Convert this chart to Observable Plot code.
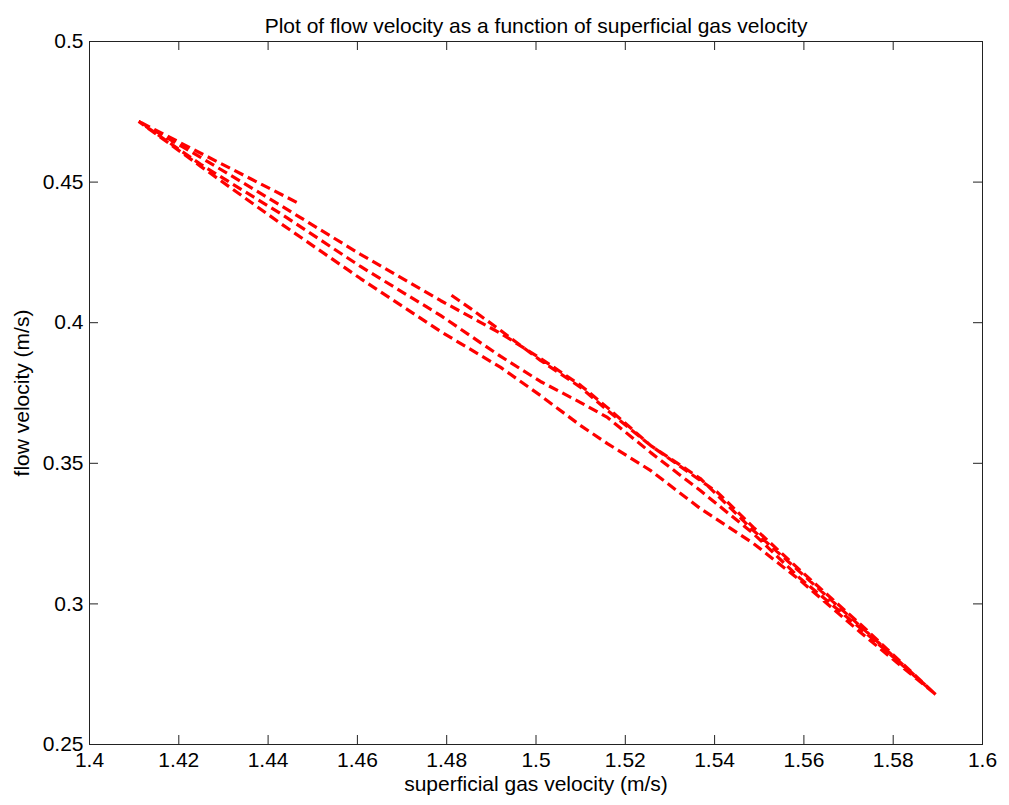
<!DOCTYPE html>
<html>
<head>
<meta charset="utf-8">
<script src="https://cdn.jsdelivr.net/npm/d3@7"></script>
<script src="https://cdn.jsdelivr.net/npm/@observablehq/plot@0.6"></script>
<style>
  html, body { margin: 0; padding: 0; background: #fff; }
</style>
</head>
<body>
<div id="chart"></div>
<script>
// superficial gas velocity (m/s), in path order
const ug = [
  1.4464, 1.4110,
  1.4249, 1.4428, 1.4607, 1.4786, 1.4921, 1.5010, 1.5100, 1.5160, 1.5257, 1.5368, 1.5487, 1.5592, 1.5727, 1.5895,
  1.5727, 1.5592, 1.5487, 1.5368, 1.5257, 1.5160, 1.5100, 1.5010, 1.4921, 1.4786, 1.4607, 1.4428, 1.4249, 1.4110,
  1.4249, 1.4428, 1.4607, 1.4786, 1.4921, 1.5010, 1.5100, 1.5160, 1.5257, 1.5368, 1.5487, 1.5592, 1.5727, 1.5895,
  1.5727, 1.5592, 1.5487, 1.5407, 1.5368, 1.5257, 1.5160, 1.5100, 1.5010, 1.4921, 1.4853, 1.4802
];
// flow velocity (m/s)
const vf = [
  0.4428, 0.4716,
  0.4588, 0.4417, 0.4243, 0.4079, 0.3962, 0.3873, 0.3777, 0.3698, 0.3563, 0.3446, 0.3261, 0.3112, 0.2920, 0.2678,
  0.2913, 0.3090, 0.3250, 0.3403, 0.3538, 0.3663, 0.3716, 0.3791, 0.3880, 0.4026, 0.4200, 0.4388, 0.4563, 0.4716,
  0.4556, 0.4353, 0.4157, 0.3969, 0.3841, 0.3741, 0.3634, 0.3570, 0.3474, 0.3339, 0.3215, 0.3083, 0.2898, 0.2678,
  0.2927, 0.3119, 0.3272, 0.3396, 0.3439, 0.3563, 0.3688, 0.3770, 0.3866, 0.3972, 0.4051, 0.4107
];
const xTicks = [1.4, 1.42, 1.44, 1.46, 1.48, 1.5, 1.52, 1.54, 1.56, 1.58, 1.6];
const yTicks = [0.25, 0.3, 0.35, 0.4, 0.45, 0.5];
const titleText = "Plot of flow velocity as a function of superficial gas velocity";
const xLabel = "superficial gas velocity (m/s)";
const yLabel = "flow velocity (m/s)";

const data = ug.map((x, i) => ({x, y: vf[i]}));

const W = 1009, H = 805;
const mL = 89, mR = 27, mT = 41, mB = 61;
const fw = W - mL - mR, fh = H - mT - mB;
const tk = 9;
const fs = 21;

const chart = Plot.plot({
  width: W,
  height: H,
  marginLeft: mL,
  marginRight: mR,
  marginTop: mT,
  marginBottom: mB,
  style: {fontFamily: "'Liberation Sans', Arial, sans-serif", fontSize: fs + "px", background: "#fff", color: "#000"},
  x: {domain: [1.4, 1.6]},
  y: {domain: [0.25, 0.5]},
  marks: [
    Plot.line(data, {x: "x", y: "y", stroke: "#ff0000", strokeWidth: 3.2, strokeDasharray: "10,5", strokeLinejoin: "miter", strokeLinecap: "butt"}),
    Plot.ruleX(xTicks, {x: d => d, insetTop: fh - tk, stroke: "#222"}),
    Plot.ruleX(xTicks, {x: d => d, insetBottom: fh - tk, stroke: "#222"}),
    Plot.ruleY(yTicks, {y: d => d, insetRight: fw - tk, stroke: "#222"}),
    Plot.ruleY(yTicks, {y: d => d, insetLeft: fw - tk, stroke: "#222"}),
    Plot.frame({stroke: "#222"}),
    Plot.axisX(xTicks, {anchor: "bottom", tickSize: 0, tickPadding: 8, fontSize: fs, tickFormat: d => String(d), label: null}),
    Plot.axisY(yTicks, {anchor: "left", tickSize: 0, tickPadding: 6, fontSize: fs, tickFormat: d => String(d), label: null}),
    Plot.text([titleText], {text: d => d, frameAnchor: "top", dy: -23, fontSize: fs, textAnchor: "middle"}),
    Plot.text([xLabel], {text: d => d, frameAnchor: "bottom", dy: 46, fontSize: fs, textAnchor: "middle"}),
    Plot.text([yLabel], {text: d => d, frameAnchor: "left", dx: -67, rotate: -90, fontSize: fs, textAnchor: "middle"})
  ]
});
document.getElementById("chart").appendChild(chart);
</script>
</body>
</html>
